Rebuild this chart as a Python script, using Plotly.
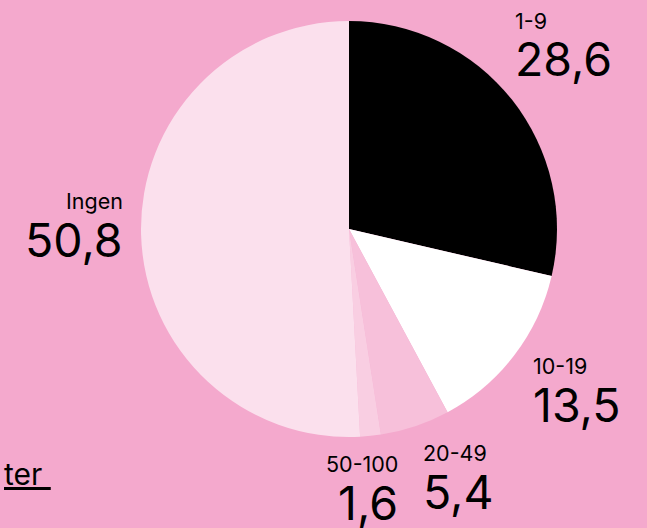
import plotly.graph_objects as go

categories = ["1-9", "10-19", "20-49", "50-100", "Ingen"]
values = [28.6, 13.5, 5.4, 1.6, 50.8]
value_labels = ["28,6", "13,5", "5,4", "1,6", "50,8"]
colors = ["#000000", "#FFFFFF", "#F7C0DA", "#F9CEE2", "#FBE0ED"]

W, H = 647, 528
BG = "#F4A9CD"
FONT = "Inter"

cx, cy, r = 349, 229, 208

fig = go.Figure(go.Pie(
    labels=categories,
    values=values,
    sort=False,
    direction="clockwise",
    rotation=0,
    marker=dict(colors=colors, line=dict(width=0)),
    textinfo="none",
    hoverinfo="label+value",
    showlegend=False,
    domain=dict(x=[(cx - r) / W, (cx + r) / W], y=[(H - cy - r) / H, (H - cy + r) / H]),
))

# label placement (pixel positions of label anchors): (x, y_small, y_big, anchor)
label_pos = {
    "1-9": (513, 21, 59, "left"),
    "10-19": (531, 366, 404.5, "left"),
    "20-49": (421, 453, 491.5, "left"),
    "50-100": (400, 464, 503, "right"),
    "Ingen": (125, 201, 240, "right"),
}

annotations = []
for cat, val in zip(categories, value_labels):
    x, ys, yb, anc = label_pos[cat]
    annotations.append(dict(x=x / W, y=1 - ys / H, xref="paper", yref="paper",
                            text=cat, showarrow=False, xanchor=anc, yanchor="middle",
                            font=dict(family=FONT, size=21.5, color="#000000")))
    annotations.append(dict(x=x / W, y=1 - yb / H, xref="paper", yref="paper",
                            text=val, showarrow=False, xanchor=anc, yanchor="middle",
                            font=dict(family=FONT, size=46.5, color="#000000")))

annotations.append(dict(x=53 / W, y=1 - 474 / H, xref="paper", yref="paper",
                        text="<u>ter </u>", showarrow=False, xanchor="right", yanchor="middle",
                        font=dict(family=FONT, size=30, color="#000000")))

fig.update_layout(
    width=W, height=H,
    margin=dict(l=0, r=0, t=0, b=0),
    paper_bgcolor=BG, plot_bgcolor=BG,
    annotations=annotations,
)

fig.write_html("out.html", config=dict(displayModeBar=False),
               post_script="document.body.style.margin='0';document.body.style.background='" + BG + "';")
